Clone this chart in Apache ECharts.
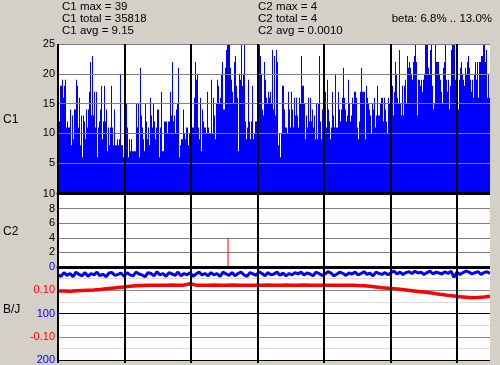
<!DOCTYPE html>
<html><head><meta charset="utf-8">
<script src="https://cdn.jsdelivr.net/npm/echarts@6/dist/echarts.min.js"></script>
<style>html,body{margin:0;padding:0;background:#D4D0C8;}#c{width:500px;height:365px;}</style>
</head><body><div id="c"></div>
<script>
// C1 per-pixel counts (clipped at the axis top, 25)
const c1Values = [
12,12,18,18,19,16,18,19,11,12,11,11,14,8,13,9,14,14,
19,18,11,16,8,13,6,13,12,9,14,11,14,17,22,13,23,13,17,11,17,6,11,12,14,18,9,12,18,12,
14,7,11,8,11,18,11,8,14,8,8,9,8,9,20,8,8,6,9,6,15,11,6,9,7,9,7,7,7,7,
15,11,15,6,21,13,11,9,7,15,12,9,11,8,16,13,11,15,12,9,11,14,14,6,11,17,7,7,12,12,
12,10,12,12,17,13,22,12,13,10,14,15,21,6,8,9,9,14,10,9,11,11,8,10,9,9,11,11,16,22,
19,20,11,9,16,7,14,12,11,11,10,17,11,10,10,19,10,16,13,9,15,19,18,15,16,20,22,14,14,21,
24,25,25,25,21,19,17,15,22,23,18,16,7,20,19,25,18,20,25,12,9,11,19,12,9,12,18,9,10,12,
12,13,12,25,23,20,14,13,22,19,16,15,17,16,17,15,24,14,
23,13,24,22,8,10,6,10,18,18,14,11,11,10,17,14,11,17,14,11,16,13,16,13,11,16,15,23,18,18,
15,9,13,11,16,12,16,12,14,11,13,9,15,9,15,23,12,9,14,19,17,17,11,19,14,12,9,11,17,13,
11,20,11,11,17,14,12,14,16,21,16,14,12,13,19,15,12,13,16,15,17,17,16,11,9,12,17,21,17,17,
17,9,18,16,15,14,13,10,15,14,16,11,13,18,13,13,15,16,
16,12,16,14,12,10,16,15,20,20,18,13,17,22,20,16,15,24,15,13,18,13,18,19,15,23,21,22,21,20,
19,22,23,25,22,13,19,19,18,19,17,19,20,25,25,25,21,20,24,25,18,14,15,25,22,22,22,20,19,17,
15,21,22,25,19,17,19,14,18,24,25,25,25,19,16,18,14,19,21,22,20,19,18,21,20,22,23,21,19,17,
19,16,20,22,19,22,16,22,22,23,23,25,25,22,24,16,20,16
];
// C2: only one non-zero sample [sample index, value]
const c2Points = [[170, 4]];
// B/J blue series (left axis 0..200, inverted), one value every 3 samples
const bjBlue = [
17,20,12,18,14,21,11,16,19,12,20,14,17,11,19,15,21,13,12,18,16,13,20,12,17,
19,11,15,17,21,12,14,19,10,17,14,20,12,15,18,11,19,14,17,12,20,15,11,17,14,19,
12,17,14,20,11,15,18,12,19,14,11,17,20,12,15,18,10,14,19,12,17,15,11,18,13,19,14,17,12,15,
11,17,13,15,19,11,14,18,15,10,13,19,15,11,14,18,13,15,11,17,14,10,16,13,19,11,14,16,12,17,
12,9,15,11,16,12,10,14,9,13,11,16,12,9,15,11,13,15,10,14,9,22,11,16,12,9,11,15,12,10,16,12,10,14
];
// B/J red series (beta, -0.2..0.2), one value every 6 samples
const bjRed = [
0.097,0.097,0.096,0.098,0.099,0.100,0.101,0.103,0.106,0.109,0.112,
0.114,0.117,0.119,0.120,0.121,0.121,0.122,0.122,0.123,0.122,
0.122,0.128,0.122,0.121,0.122,0.123,0.122,0.122,0.123,0.122,
0.122,0.122,0.121,0.122,0.123,0.122,0.122,0.123,0.122,0.122,
0.123,0.122,0.122,0.121,0.122,0.122,0.121,0.121,0.121,0.120,
0.119,0.117,0.114,0.111,0.109,0.107,0.104,0.101,0.098,0.095,
0.092,0.089,0.085,0.082,0.078,0.075,0.072,0.070,0.068,0.069,0.071,0.074
];
const statLinesC1 = ['C1 max = 39', 'C1 total = 35818', 'C1 avg = 9.15'];
const statLinesC2 = ['C2 max = 4', 'C2 total = 4', 'C2 avg = 0.0010'];
const betaText = 'beta: 6.8% .. 13.0%';
const panelNames = ['C1', 'C2', 'B/J'];

const N = c1Values.length;
const cats = c1Values.map((_, i) => i);
const blueStep = N / (bjBlue.length - 1);
const redStep = N / (bjRed.length - 1);
const DIV = 66.5;          // samples between vertical divider lines
const DIV_MAX = DIV * 7;   // divider scale reaches past the plot's right edge

const FONT = 'Liberation Sans, Arial, sans-serif';
const BG = '#D4D0C8';
const chart = echarts.init(document.getElementById('c'), null, {renderer: 'canvas'});

const PLOT = {left: 58, width: 432, top: 44, bottom: 360};

const plainX = (gi, extra) => Object.assign({
  type: 'value', gridIndex: gi, min: 0, max: N,
  axisLabel: {show: false}, axisTick: {show: false}, splitLine: {show: false},
  axisLine: {show: false}
}, extra || {});

const txt = (text, x, y, opts) => ({
  type: 'text', x: x, y: y, silent: true,
  style: Object.assign({text: text, fill: '#000', fontSize: 11.5, fontFamily: FONT, verticalAlign: 'middle', align: 'left'}, opts || {})
});

const graphics = [
  {type: 'rect', silent: true, z: -10,
   shape: {x: PLOT.left, y: PLOT.top, width: PLOT.width, height: PLOT.bottom - PLOT.top},
   style: {fill: '#fff'}},
  // window background to the right of the plot area
  {type: 'rect', silent: true, z: 100,
   shape: {x: PLOT.left + PLOT.width, y: PLOT.top - 4, width: 20, height: 330},
   style: {fill: BG}}
];
statLinesC1.forEach((t, i) => graphics.push(txt(t, 62, 7 + 12 * i)));
statLinesC2.forEach((t, i) => graphics.push(txt(t, 258, 7 + 12 * i)));
graphics.push(txt(betaText, 492, 19, {align: 'right'}));
graphics.push(txt(panelNames[0], 3, 120, {fontSize: 12}));
graphics.push(txt(panelNames[1], 3, 232, {fontSize: 12}));
graphics.push(txt(panelNames[2], 3, 310, {fontSize: 12}));

const gridBase = {left: PLOT.left, width: PLOT.width, show: false, outerBoundsMode: 'none', containLabel: false};

chart.setOption({
  animation: false,
  backgroundColor: BG,
  textStyle: {fontFamily: FONT},
  graphic: graphics,
  grid: [
    Object.assign({}, gridBase, {top: 44, height: 149}),
    Object.assign({}, gridBase, {top: 194, height: 73}),
    Object.assign({}, gridBase, {top: 267, height: 93}),
    Object.assign({}, gridBase, {width: (PLOT.width / N) * DIV_MAX, top: 44, height: 316})
  ],
  xAxis: [
    {type: 'category', gridIndex: 0, data: cats, z: 10, boundaryGap: true,
     axisLabel: {show: false}, axisTick: {show: false}, splitLine: {show: false},
     axisLine: {show: true, lineStyle: {color: '#000', width: 3}}},
    plainX(1, {z: 10, axisLine: {show: true, onZero: false, lineStyle: {color: '#000', width: 3}}}),
    plainX(2, {axisLine: {show: true, onZero: false, lineStyle: {color: '#000', width: 1}}}),
    {type: 'value', gridIndex: 3, min: 0, max: DIV_MAX, interval: DIV, z: 10,
     axisLabel: {show: false}, axisLine: {show: false},
     axisTick: {show: true, length: 3, lineStyle: {color: '#000', width: 2}},
     splitLine: {show: true, lineStyle: {color: '#000', width: 2}}}
  ],
  yAxis: [
    {type: 'value', gridIndex: 0, min: 0, max: 25, interval: 5, z: 10,
     axisLine: {show: false}, axisTick: {show: false},
     axisLabel: {color: '#000', fontSize: 11, margin: 3, fontFamily: FONT, formatter: v => v === 0 ? '' : String(v)},
     splitLine: {show: true, lineStyle: {color: '#808080', width: 1}}},
    {type: 'value', gridIndex: 1, min: 0, max: 10, interval: 2,
     axisLine: {show: false}, axisTick: {show: false},
     axisLabel: {color: '#000', fontSize: 11, margin: 3, fontFamily: FONT, formatter: v => v === 0 ? '' : String(v)},
     splitLine: {show: true, lineStyle: {color: '#808080', width: 1}}},
    {type: 'value', gridIndex: 2, min: 0, max: 200, interval: 25, inverse: true,
     axisLine: {show: false}, axisTick: {show: false},
     axisLabel: {color: '#0000FF', fontSize: 11, margin: 3, fontFamily: FONT, formatter: v => v % 100 === 0 ? String(v) : ''},
     splitLine: {show: true, lineStyle: {color: ['#000000', '#DCDCDC', '#8C8C8C', '#DCDCDC'], width: 1}}},
    {type: 'value', gridIndex: 2, min: -0.2, max: 0.2, interval: 0.1, position: 'left',
     axisLine: {show: false}, axisTick: {show: false}, splitLine: {show: false},
     axisLabel: {color: '#FF0000', fontSize: 11, margin: 3, fontFamily: FONT,
       formatter: v => Math.abs(v - 0.1) < 1e-9 ? '0.10' : (Math.abs(v + 0.1) < 1e-9 ? '-0.10' : '')}},
    {type: 'value', gridIndex: 3, min: 0, max: 1, show: false}
  ],
  series: [
    {type: 'bar', xAxisIndex: 0, yAxisIndex: 0, data: c1Values, barWidth: '100%', barGap: '0%',
     itemStyle: {color: '#0000FF'}, silent: true, large: false},
    {type: 'bar', xAxisIndex: 1, yAxisIndex: 1, data: c2Points, barWidth: 1,
     itemStyle: {color: '#FF0000'}, silent: true},
    {type: 'line', xAxisIndex: 2, yAxisIndex: 2, data: bjBlue.map((v, i) => [i * blueStep, v]),
     symbol: 'none', lineStyle: {color: '#0000FF', width: 3}, silent: true, z: 4},
    {type: 'line', xAxisIndex: 2, yAxisIndex: 3, data: bjRed.map((v, i) => [i * redStep, v]),
     symbol: 'none', lineStyle: {color: '#FF0000', width: 3.5}, silent: true, z: 4}
  ]
});
</script>
</body></html>
